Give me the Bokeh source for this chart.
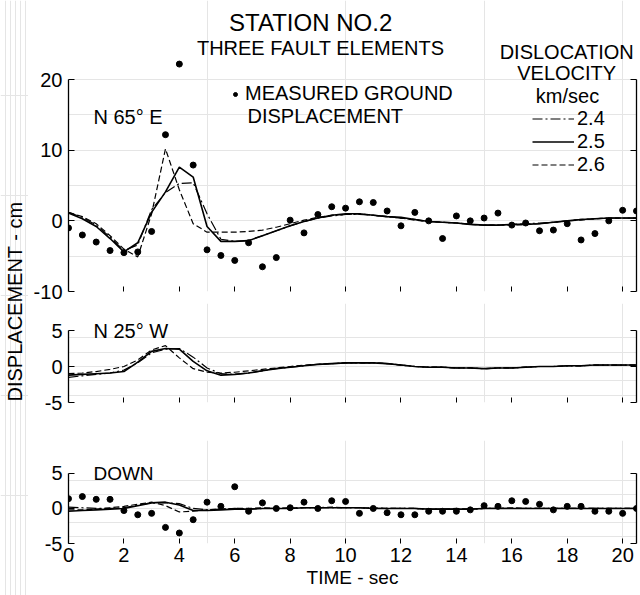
import math
from bokeh.plotting import figure
from bokeh.layouts import row, column
from bokeh.models import (Range1d, LinearAxis, FixedTicker, Label, Legend, LegendItem,
                          CustomJSTickFormatter)
from bokeh.embed import file_html
from bokeh.resources import INLINE

FONT = "Liberation Sans"

# ---------------- data ----------------
time_s = [0.0, 0.5, 1.0, 1.5, 2.0, 2.5, 3.0, 3.5, 4.0, 4.5, 5.0, 5.5, 6.0, 6.5,
          7.0, 7.5, 8.0, 8.5, 9.0, 9.5, 10.0, 10.5, 11.0, 11.5, 12.0, 12.5, 13.0, 13.5,
          14.0, 14.5, 15.0, 15.5, 16.0, 16.5, 17.0, 17.5, 18.0, 18.5, 19.0, 19.5, 20.0, 20.5]

# N 65 E component
n65e_measured = [-1.0, -2.0, -3.0, -4.2, -4.5, -4.4, -1.5, 12.2, 22.2, 7.9, -4.1, -4.9, -5.6, -3.1,
                 -6.5, -5.2, 0.1, -1.7, 0.9, 2.0, 1.8, 2.7, 2.6, 1.4, -0.7, 1.2, 0.0, -2.5,
                 0.7, 0.0, 0.4, 1.1, -0.6, -0.3, -1.4, -1.3, -0.4, -2.7, -1.8, 0.0, 1.5, 1.4]
n65e_v24 = [1.2, 0.5, -0.6, -2.3, -4.2, -3.4, 1.6, 4.0, 5.3, 5.4, 1.0, -2.6, -2.9, -2.8,
            -2.1, -1.4, -0.7, -0.1, 0.4, 0.7, 0.9, 0.9, 0.8, 0.6, 0.4, 0.2, -0.1, -0.2,
            -0.3, -0.5, -0.6, -0.6, -0.5, -0.4, -0.3, -0.2, 0.0, 0.2, 0.3, 0.4, 0.4, 0.4]
n65e_v25 = [1.1, 0.3, -0.8, -2.5, -4.4, -3.1, 1.2, 4.1, 7.6, 6.2, -0.8, -2.9, -2.9, -2.8,
            -2.1, -1.4, -0.7, -0.1, 0.4, 0.8, 1.0, 1.0, 0.8, 0.6, 0.5, 0.2, -0.1, -0.2,
            -0.3, -0.5, -0.6, -0.6, -0.5, -0.5, -0.4, -0.2, 0.0, 0.2, 0.3, 0.4, 0.4, 0.4]
n65e_v26 = [1.2, 0.6, -0.4, -2.1, -4.0, -5.1, 1.0, 10.2, 4.4, -0.4, -1.6, -1.6, -1.6, -1.5,
            -1.3, -0.9, -0.4, 0.1, 0.5, 0.8, 0.9, 1.0, 0.8, 0.6, 0.4, 0.1, -0.1, -0.2,
            -0.3, -0.5, -0.6, -0.6, -0.6, -0.5, -0.4, -0.2, 0.0, 0.1, 0.3, 0.4, 0.4, 0.4]

# N 25 W component
n25w_v24 = [-1.5, -1.3, -1.1, -0.9, -0.5, 0.5, 1.9, 2.4, 2.5, 1.3, -0.2, -1.0, -1.1, -0.9,
            -0.6, -0.3, -0.1, 0.1, 0.3, 0.4, 0.5, 0.5, 0.5, 0.4, 0.2, 0.0, -0.1, -0.1,
            -0.2, -0.2, -0.3, -0.2, -0.2, -0.1, 0.0, 0.0, 0.1, 0.1, 0.2, 0.2, 0.2, 0.2]
n25w_v25 = [-1.2, -1.1, -1.0, -0.9, -0.7, 0.6, 2.1, 2.5, 2.4, 0.7, -0.6, -1.2, -1.1, -0.9,
            -0.6, -0.3, -0.1, 0.1, 0.3, 0.4, 0.5, 0.5, 0.5, 0.4, 0.2, 0.0, -0.1, -0.1,
            -0.2, -0.2, -0.3, -0.2, -0.2, -0.1, 0.0, 0.0, 0.1, 0.1, 0.2, 0.2, 0.2, 0.2]
n25w_v26 = [-1.0, -0.9, -0.7, -0.4, 0.0, 0.9, 2.3, 2.9, 1.2, -0.3, -0.8, -0.9, -0.8, -0.6,
            -0.4, -0.2, 0.0, 0.2, 0.3, 0.4, 0.5, 0.5, 0.5, 0.4, 0.2, 0.0, -0.1, -0.1,
            -0.2, -0.2, -0.3, -0.2, -0.2, -0.1, 0.0, 0.0, 0.1, 0.1, 0.2, 0.2, 0.2, 0.2]

# DOWN component
down_measured = [1.4, 1.7, 1.3, 1.3, -0.3, -0.9, -0.7, -2.7, -3.5, -1.6, 0.9, 0.3, 3.1, -0.4,
                 0.8, 0.0, 0.1, 0.9, 0.0, 1.1, 1.0, -0.7, 0.0, -0.6, -0.9, -0.9, -0.4, -0.4,
                 -0.4, -0.2, 0.4, 0.3, 1.1, 1.0, 0.6, -0.2, 0.3, 0.3, -0.4, -0.4, -0.7, 0.0]
down_v24 = [0.2, 0.1, 0.0, 0.0, 0.1, 0.5, 0.8, 0.8, 0.7, 0.0, -0.2, -0.1, 0.0, -0.1,
            0.0, 0.0, 0.0, 0.1, 0.1, 0.1, 0.1, 0.1, 0.0, 0.0, 0.0, 0.0, -0.1, -0.1,
            -0.1, -0.1, 0.0, 0.0, 0.0, 0.0, 0.0, 0.0, 0.0, 0.0, 0.0, 0.0, 0.0, 0.0]
down_v25 = [-0.4, -0.3, -0.2, -0.1, 0.0, 0.4, 0.8, 0.9, 0.5, -0.3, -0.3, -0.2, -0.1, -0.1,
            0.0, 0.0, 0.0, 0.1, 0.1, 0.1, 0.1, 0.1, 0.0, 0.0, 0.0, 0.0, -0.1, -0.1,
            -0.1, -0.1, 0.0, 0.0, 0.0, 0.0, 0.0, 0.0, 0.0, 0.0, 0.0, 0.0, 0.0, 0.0]
down_v26 = [-0.2, -0.2, -0.1, 0.1, 0.3, 0.6, 0.9, 0.4, -0.5, -0.4, -0.2, -0.1, 0.0, 0.0,
            0.1, 0.0, 0.1, 0.1, 0.1, 0.2, 0.1, 0.1, 0.1, 0.0, 0.0, 0.0, -0.1, -0.1,
            0.0, -0.1, 0.0, 0.0, 0.1, 0.0, 0.0, 0.0, 0.0, 0.0, 0.0, 0.0, 0.0, 0.0]

velocity_labels = ["2.4", "2.5", "2.6"]
x_ticks = [0, 2, 4, 6, 8, 10, 12, 14, 16, 18, 20]
top_yticks = [-10, 0, 10, 20]
small_yticks = [-5, 0, 5]

# ---------------- styling ----------------
DASHES = {"2.4": "10 3 2 3", "2.5": "solid", "2.6": "6 3"}
WIDTHS = {"2.4": 1.2, "2.5": 1.6, "2.6": 1.2}

xr = Range1d(0, 20.5)
empty_fmt = CustomJSTickFormatter(code="return ''")


def make_panel(height, y0, y1, bounds, yticks, border_bottom, labelled_x):
    p = figure(width=612, height=height, x_range=xr, y_range=Range1d(y0, y1),
               output_backend="svg", toolbar_location=None,
               x_axis_location=None, y_axis_location=None,
               min_border_left=40, min_border_right=4, min_border_top=0,
               min_border_bottom=border_bottom)
    p.outline_line_color = None
    p.background_fill_color = None
    p.border_fill_color = None

    left = LinearAxis(ticker=FixedTicker(ticks=yticks), bounds=bounds,
                      major_tick_in=6, major_tick_out=0, major_label_standoff=6,
                      axis_line_width=1.3, major_tick_line_width=1.2,
                      axis_line_color="black", major_tick_line_color="black",
                      major_label_text_color="black",
                      major_label_text_font=FONT, major_label_text_font_size="20px",
                      major_label_overrides={t: str(t) for t in yticks})
    p.add_layout(left, "left")
    right = LinearAxis(ticker=FixedTicker(ticks=yticks), bounds=bounds,
                       major_tick_in=6, major_tick_out=0, major_label_standoff=0,
                       axis_line_width=1.3, major_tick_line_width=1.2,
                       axis_line_color="black", major_tick_line_color="black",
                       formatter=empty_fmt)
    p.add_layout(right, "right")
    if labelled_x:
        bottom = LinearAxis(ticker=FixedTicker(ticks=x_ticks), axis_line_color=None,
                            major_tick_in=5, major_tick_out=0, major_label_standoff=4,
                            major_tick_line_color="black", major_label_text_color="black",
                            major_label_text_font=FONT, major_label_text_font_size="20px",
                            axis_label="TIME - sec", axis_label_standoff=2,
                            axis_label_text_color="black",
                            axis_label_text_font=FONT, axis_label_text_font_size="19px",
                            axis_label_text_font_style="normal")
    else:
        bottom = LinearAxis(ticker=FixedTicker(ticks=x_ticks[1:]), axis_line_color=None,
                            major_tick_in=5, major_tick_out=0, major_label_standoff=0,
                            major_tick_line_color="black", formatter=empty_fmt)
    p.add_layout(bottom, "below")
    return p


def add_curves(p, v24, v25, v26):
    rs = {}
    for lab, ys in zip(velocity_labels, [v24, v25, v26]):
        rs[lab] = p.line(time_s, ys, line_color="black", line_width=WIDTHS[lab],
                         line_dash=DASHES[lab])
    return rs


def add_text(p, x, y, text, size="20px", align="left"):
    p.add_layout(Label(x=x, y=y, text=text, text_font=FONT, text_font_size=size,
                       text_align=align, text_baseline="middle", text_color="black"))


# ---------------- top panel: N 65 E ----------------
top = make_panel(303, -10, 31.2, (-10, 20), top_yticks, 12, False)
rs_top = add_curves(top, n65e_v24, n65e_v25, n65e_v26)
dots_top = top.scatter(time_s, n65e_measured, size=6, color="black")

add_text(top, 8.74, 28.1, "STATION NO.2", size="24px", align="center")
add_text(top, 9.10, 24.47, "THREE FAULT ELEMENTS", align="center")
add_text(top, 17.98, 23.91, "DISLOCATION", align="center")
add_text(top, 17.98, 20.94, "VELOCITY", align="center")
add_text(top, 18.01, 17.61, "km/sec", align="center")
add_text(top, 0.90, 14.70, "N 65° E")
add_text(top, 6.46, 14.85, "DISPLACEMENT")

vel_legend = Legend(items=[LegendItem(label=lab, renderers=[rs_top[lab]]) for lab in velocity_labels],
                    location=(464, 115), orientation="vertical",
                    glyph_width=42, glyph_height=21, label_height=21, spacing=0,
                    label_standoff=3, padding=0, margin=0,
                    border_line_color=None, background_fill_alpha=0,
                    label_text_color="black",
                    label_text_font=FONT, label_text_font_size="20px")
top.add_layout(vel_legend)

dot_legend = Legend(items=[LegendItem(label="MEASURED GROUND", renderers=[dots_top])],
                    location=(162, 186), glyph_width=10, glyph_height=20, label_height=20,
                    label_standoff=5, padding=0, margin=0,
                    border_line_color=None, background_fill_alpha=0,
                    label_text_color="black",
                    label_text_font=FONT, label_text_font_size="20px")
top.add_layout(dot_legend)

# ---------------- middle panel: N 25 W ----------------
mid = make_panel(137, -5, 8.75, (-5, 5), small_yticks, 38, False)
add_curves(mid, n25w_v24, n25w_v25, n25w_v26)
add_text(mid, 0.90, 5.0, "N 25° W")

# ---------------- bottom panel: DOWN ----------------
bot = make_panel(155, -5, 9.7, (-5, 5), small_yticks, 52, True)
add_curves(bot, down_v24, down_v25, down_v26)
bot.scatter(time_s, down_measured, size=6, color="black")
add_text(bot, 0.90, 5.06, "DOWN", size="19px")

# ---------------- shared vertical axis title ----------------
lab_fig = figure(width=28, height=595, x_range=Range1d(0, 28), y_range=Range1d(0, 595),
                 output_backend="svg", toolbar_location=None,
                 x_axis_location=None, y_axis_location=None, min_border=0)
lab_fig.outline_line_color = None
lab_fig.background_fill_color = None
lab_fig.border_fill_color = None
lab_fig.add_layout(Label(x=14, y=294, text="DISPLACEMENT - cm", angle=math.pi / 2,
                         text_font=FONT, text_font_size="20px", text_align="center",
                         text_baseline="middle", text_color="black"))

layout = row(lab_fig, column(top, mid, bot))
open("out.html", "w").write(file_html(layout, INLINE))
